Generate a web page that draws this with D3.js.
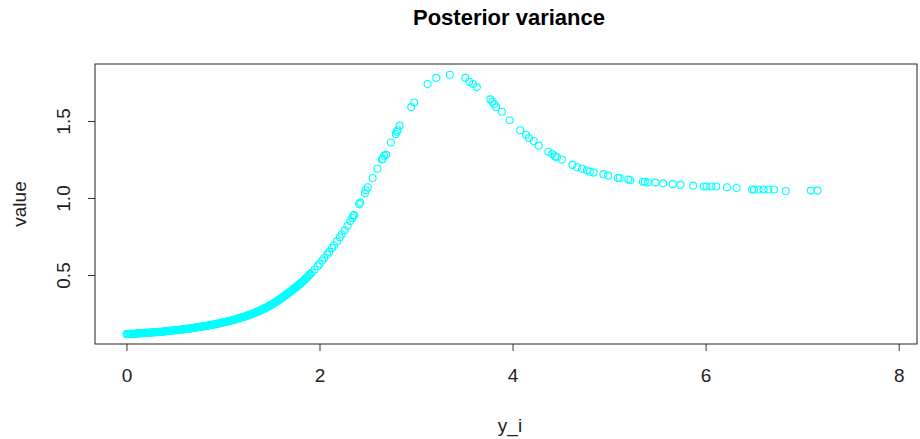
<!DOCTYPE html>
<html>
<head>
<meta charset="utf-8">
<script src="https://cdn.jsdelivr.net/npm/d3@7"></script>
<style>
  body { margin: 0; background: #fff; }
  svg { display: block; font-family: "Liberation Sans", Arial, sans-serif; }
</style>
</head>
<body>
<svg id="chart" width="920" height="439"></svg>
<script>
// values
const yi = [
  0.00, 0.01, 0.02, 0.03, 0.04, 0.05, 0.06, 0.07, 0.08, 0.09,
  0.10, 0.11, 0.12, 0.13, 0.14, 0.15, 0.16, 0.17, 0.18, 0.19,
  0.20, 0.21, 0.22, 0.23, 0.24, 0.25, 0.26, 0.27, 0.28, 0.29,
  0.30, 0.31, 0.32, 0.33, 0.34, 0.35, 0.36, 0.37, 0.38, 0.39,
  0.40, 0.41, 0.42, 0.43, 0.44, 0.45, 0.46, 0.47, 0.48, 0.49,
  0.50, 0.51, 0.52, 0.53, 0.54, 0.55, 0.56, 0.57, 0.58, 0.59,
  0.60, 0.61, 0.62, 0.63, 0.64, 0.65, 0.66, 0.67, 0.68, 0.69,
  0.70, 0.71, 0.72, 0.73, 0.74, 0.75, 0.76, 0.77, 0.78, 0.79,
  0.80, 0.81, 0.82, 0.83, 0.84, 0.85, 0.86, 0.87, 0.88, 0.89,
  0.90, 0.91, 0.92, 0.93, 0.94, 0.95, 0.96, 0.97, 0.98, 0.99,
  1.00, 1.01, 1.02, 1.03, 1.04, 1.05, 1.06, 1.07, 1.08, 1.09,
  1.10, 1.11, 1.12, 1.13, 1.14, 1.15, 1.16, 1.17, 1.18, 1.19,
  1.20, 1.21, 1.22, 1.23, 1.24, 1.25, 1.26, 1.27, 1.28, 1.29,
  1.30, 1.31, 1.32, 1.33, 1.34, 1.35, 1.36, 1.37, 1.38, 1.39,
  1.40, 1.41, 1.42, 1.43, 1.44, 1.45, 1.46, 1.47, 1.48, 1.49,
  1.50, 1.51, 1.52, 1.53, 1.54, 1.55, 1.56, 1.57, 1.58, 1.59,
  1.60, 1.61, 1.62, 1.63, 1.64, 1.65, 1.66, 1.67, 1.68, 1.69,
  1.70, 1.71, 1.72, 1.73, 1.74, 1.75, 1.76, 1.77, 1.78, 1.79,
  1.80, 1.815, 1.83, 1.845, 1.86, 1.875, 1.89, 1.905,
  1.92, 1.95, 1.98, 2.00, 2.03, 2.05, 2.08, 2.10, 2.13, 2.15, 2.18, 2.21,
  2.23, 2.26, 2.29, 2.32, 2.34, 2.35, 2.36, 2.41, 2.42, 2.47, 2.48, 2.50, 2.55, 2.60, 2.645, 2.655,
  2.67, 2.69, 2.74, 2.79, 2.80, 2.81, 2.83, 2.95, 2.98, 3.12, 3.21, 3.35,
  3.51, 3.55, 3.59, 3.63, 3.77, 3.79, 3.81, 3.83, 3.89, 3.97, 4.08, 4.14, 4.17, 4.22, 4.27, 4.37,
  4.41, 4.44, 4.46, 4.51, 4.62, 4.67, 4.72, 4.77, 4.80, 4.84, 4.94, 4.99, 5.09, 5.11, 5.20, 5.22,
  5.35, 5.37, 5.40, 5.48, 5.56, 5.66, 5.74, 5.87, 5.98, 6.01, 6.06, 6.11, 6.22, 6.32, 6.48, 6.50,
  6.55, 6.60, 6.65, 6.71, 6.83, 7.09, 7.16
];
const value = [
  0.117, 0.117, 0.117, 0.118, 0.118, 0.118, 0.118, 0.119, 0.119, 0.119,
  0.120, 0.120, 0.121, 0.121, 0.121, 0.122, 0.122, 0.122, 0.123, 0.123,
  0.124, 0.124, 0.125, 0.125, 0.126, 0.126, 0.127, 0.127, 0.128, 0.128,
  0.129, 0.129, 0.130, 0.130, 0.131, 0.131, 0.132, 0.132, 0.133, 0.133,
  0.134, 0.135, 0.135, 0.136, 0.137, 0.137, 0.138, 0.139, 0.139, 0.140,
  0.141, 0.141, 0.142, 0.143, 0.144, 0.144, 0.145, 0.146, 0.147, 0.147,
  0.148, 0.149, 0.150, 0.151, 0.152, 0.152, 0.153, 0.154, 0.155, 0.156,
  0.157, 0.158, 0.159, 0.160, 0.161, 0.162, 0.163, 0.164, 0.165, 0.166,
  0.167, 0.168, 0.169, 0.170, 0.171, 0.172, 0.173, 0.175, 0.176, 0.177,
  0.178, 0.179, 0.181, 0.182, 0.183, 0.185, 0.186, 0.187, 0.189, 0.190,
  0.192, 0.193, 0.195, 0.196, 0.197, 0.199, 0.200, 0.202, 0.203, 0.205,
  0.206, 0.208, 0.210, 0.212, 0.214, 0.216, 0.218, 0.220, 0.222, 0.224,
  0.225, 0.227, 0.229, 0.231, 0.233, 0.235, 0.238, 0.240, 0.242, 0.245,
  0.247, 0.250, 0.252, 0.255, 0.257, 0.260, 0.263, 0.265, 0.268, 0.271,
  0.274, 0.277, 0.280, 0.283, 0.286, 0.289, 0.293, 0.296, 0.299, 0.303,
  0.306, 0.310, 0.314, 0.318, 0.322, 0.326, 0.330, 0.335, 0.339, 0.343,
  0.347, 0.352, 0.356, 0.361, 0.366, 0.370, 0.375, 0.379, 0.384, 0.389,
  0.394, 0.398, 0.402, 0.408, 0.413, 0.418, 0.423, 0.427, 0.433, 0.438,
  0.444, 0.452, 0.460, 0.469, 0.478, 0.487, 0.496, 0.506,
  0.516, 0.536, 0.557, 0.572, 0.594, 0.610, 0.634, 0.650, 0.675, 0.692, 0.718, 0.745,
  0.763, 0.790, 0.820, 0.850, 0.870, 0.885, 0.890, 0.960, 0.970, 1.030, 1.050, 1.070, 1.130, 1.190, 1.250, 1.255,
  1.275, 1.280, 1.360, 1.415, 1.430, 1.440, 1.470, 1.590, 1.620, 1.740, 1.780, 1.800,
  1.780, 1.755, 1.740, 1.720, 1.640, 1.625, 1.610, 1.590, 1.560, 1.505, 1.440, 1.410, 1.390, 1.370, 1.340, 1.300,
  1.285, 1.270, 1.265, 1.250, 1.215, 1.200, 1.190, 1.180, 1.170, 1.165, 1.155, 1.145, 1.130, 1.130, 1.120, 1.115,
  1.105, 1.105, 1.100, 1.100, 1.095, 1.090, 1.085, 1.080, 1.075, 1.075, 1.075, 1.075, 1.070, 1.065, 1.055, 1.055,
  1.055, 1.055, 1.055, 1.055, 1.045, 1.048, 1.048
];
const xTicks = [0, 2, 4, 6, 8];
const yTicks = [0.5, 1.0, 1.5];

const svg = d3.select("#chart");
const margin = {left: 95, right: 3, top: 64, bottom: 95};
const width = 920, height = 439;

const x = d3.scaleLinear().domain([-0.326, 8.19]).range([margin.left, width - margin.right]);
const y = d3.scaleLinear().domain([0.052, 1.87]).range([height - margin.bottom, margin.top]);

// points
svg.append("g")
  .selectAll("circle")
  .data(yi.map((d, i) => [d, value[i]]))
  .join("circle")
  .attr("cx", d => x(d[0]))
  .attr("cy", d => y(d[1]))
  .attr("r", 3.5)
  .attr("fill", "none")
  .attr("stroke", "#00ffff")
  .attr("stroke-width", 1.1);

// axes
const xAxis = svg.append("g")
  .attr("transform", `translate(0,${height - margin.bottom})`)
  .call(d3.axisBottom(x).tickValues(xTicks).tickFormat(d3.format("d")).tickSize(7).tickPadding(18));
xAxis.select(".domain").remove();

const yAxis = svg.append("g")
  .attr("transform", `translate(${margin.left},0)`)
  .call(d3.axisLeft(y).tickValues(yTicks).tickFormat(d3.format(".1f")).tickSize(7));
yAxis.select(".domain").remove();
yAxis.selectAll(".tick text")
  .attr("x", 0).attr("dy", null)
  .attr("text-anchor", "middle")
  .attr("transform", "translate(-32,0) rotate(-90)")
  .attr("dominant-baseline", "central");

svg.selectAll(".tick text").style("font-size", "19px").attr("fill", "#222");
svg.selectAll(".tick line").attr("stroke", "#333");

// box
svg.append("rect")
  .attr("x", margin.left).attr("y", margin.top)
  .attr("width", width - margin.right - margin.left)
  .attr("height", height - margin.bottom - margin.top)
  .attr("fill", "none").attr("stroke", "#222").attr("stroke-width", 1);

// labels
svg.append("text")
  .attr("x", 509).attr("y", 25)
  .attr("text-anchor", "middle")
  .style("font-weight", "bold").style("font-size", "22px")
  .text("Posterior variance");

svg.append("text")
  .attr("x", 510).attr("y", 432)
  .attr("text-anchor", "middle")
  .style("font-size", "19px").attr("fill", "#222")
  .text("y_i");

svg.append("text")
  .attr("transform", `translate(26,${(margin.top + height - margin.bottom) / 2}) rotate(-90)`)
  .attr("text-anchor", "middle")
  .style("font-size", "19px").attr("fill", "#222")
  .text("value");
</script>
</body>
</html>
